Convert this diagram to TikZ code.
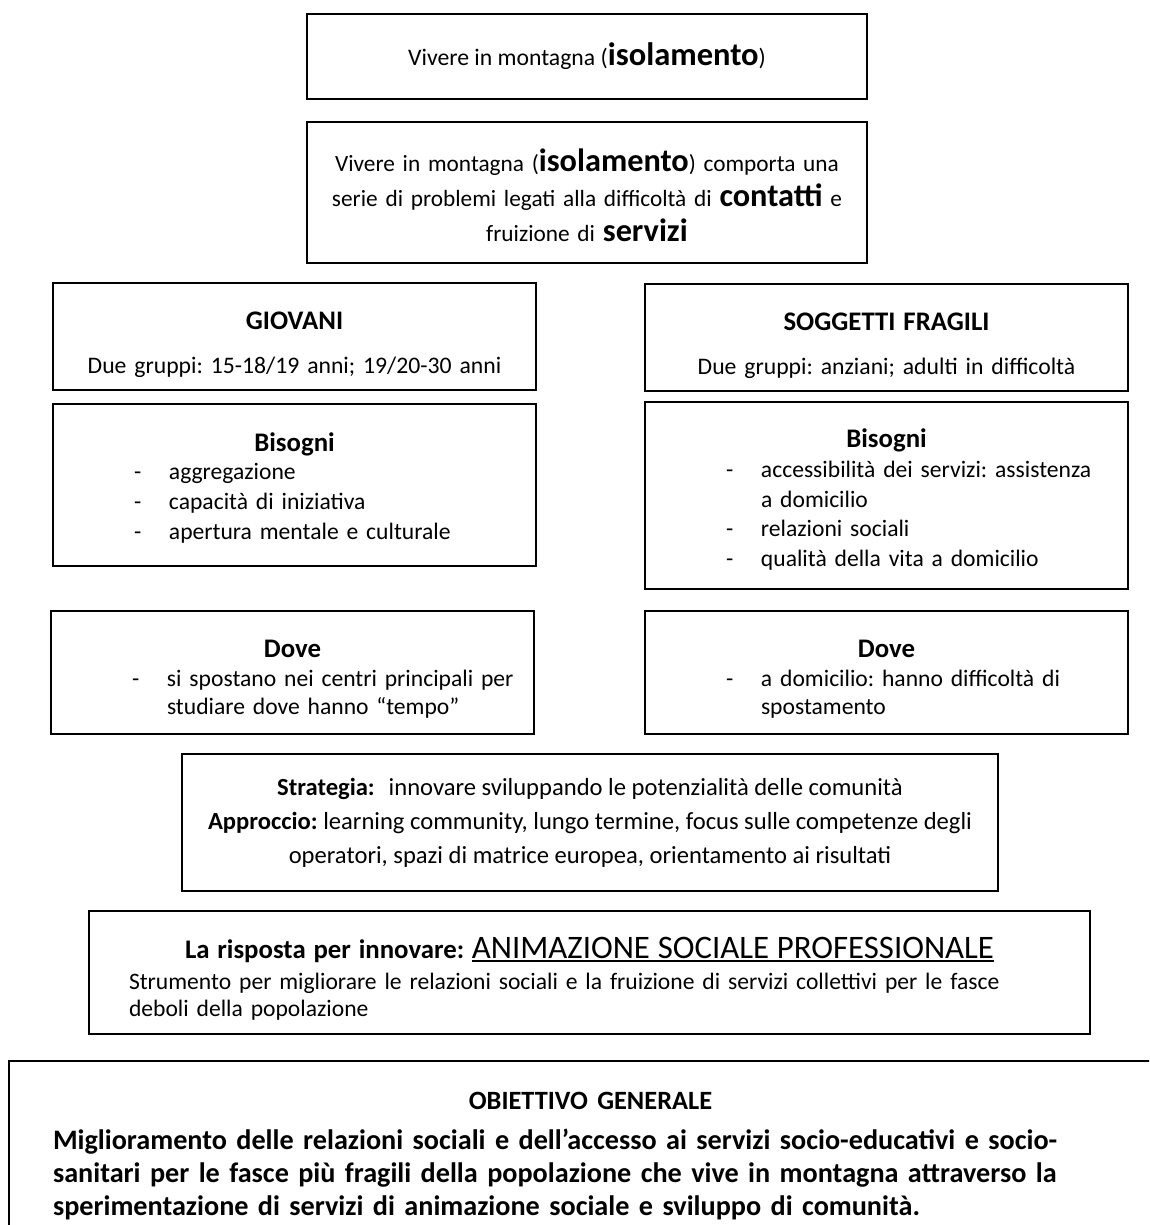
\documentclass[tikz,border=0pt]{standalone}
\usepackage{fontspec}
\setmainfont{Carlito}
\frenchspacing
\newcommand\fsz[2]{\fontsize{#1}{#2}\selectfont}
\newcommand\myul[1]{\setbox0\hbox{#1}\rlap{\rule[-4pt]{\wd0}{2pt}}\box0}
\newcommand\itm{\hspace*{81pt}\makebox[35pt][l]{-}}
\newcommand\ind{\hspace*{116pt}}
\newcommand\topst[1]{\rule{0pt}{#1pt}}
\newcommand\botst[1]{\rule[-#1pt]{0pt}{#1pt}}
\begin{document}
\begin{tikzpicture}[x=1pt,y=-1pt,
  bx/.style={draw=black, line width=2pt, rectangle, inner sep=0pt, anchor=north west},
  lst/.style={bx, align=left, text width=483pt, font=\fsz{23.6}{30}}]
\useasboundingbox (0,0) rectangle (1149,1225);
\fill[white] (0,0) rectangle (1149,1225);

\node[bx, minimum width=560, minimum height=85, align=center, font=\fsz{23.7}{30}] (b1) at (306,13)
  {Vivere in montagna (\textbf{\fsz{32.5}{30}isolamento})};

\node[bx, minimum width=560, minimum height=141, align=center, text width=560pt, font=\fsz{23.3}{35}] (b2) at (306,121)
  {\topst{42}Vivere in montagna (\textbf{\fsz{32.3}{35}isolamento}) comporta una\\
   serie di problemi legati alla difficoltà di \textbf{\fsz{32.3}{35}contatti} e\\
   fruizione di \textbf{\fsz{32.3}{35}servizi}\botst{14}};

\node[bx, minimum width=483, minimum height=107, align=center, text width=483pt, font=\fsz{23.7}{44}] (giov) at (52,282)
  {\topst{40}\textbf{\fsz{26.8}{44}GIOVANI}\\ Due gruppi: 15-18/19 anni; 19/20-30 anni\botst{9.6}};

\node[bx, minimum width=483, minimum height=107, align=center, text width=483pt, font=\fsz{23.7}{44}] (sogg) at (644,283)
  {\topst{40}\textbf{\fsz{26.8}{44}SOGGETTI FRAGILI}\\ Due gruppi: anziani; adulti in difficoltà\botst{10}};

\node[lst, minimum height=162] (bisL) at (52,403)
  {\topst{35}\makebox[483pt][c]{\bfseries\fsz{26.8}{30}Bisogni}\\[-2pt]
   \itm aggregazione\\
   \itm capacità di iniziativa\\
   \itm apertura mentale e culturale\botst{14}};

\node[lst, minimum height=187, font=\fsz{23.6}{29.5}] (bisR) at (644,401)
  {\topst{35}\makebox[483pt][c]{\bfseries\fsz{26.8}{29.5}Bisogni}\\[0.5pt]
   \itm\makebox[345pt][s]{accessibilità dei servizi: assistenza}\\
   \ind a domicilio\\
   \itm relazioni sociali\\
   \itm qualità della vita a domicilio\botst{12.1}};

\node[lst, minimum height=123, font=\fsz{23.6}{27.8}] (doveL) at (50,610)
  {\topst{37}\makebox[483pt][c]{\bfseries\fsz{26.8}{27.8}Dove}\\[1.5pt]
   \itm\makebox[345pt][s]{si spostano nei centri principali per}\\
   \ind studiare dove hanno “tempo”\botst{9.7}};

\node[lst, minimum height=123, font=\fsz{23.6}{27.8}] (doveR) at (644,610)
  {\topst{37}\makebox[483pt][c]{\bfseries\fsz{26.8}{27.8}Dove}\\[1.5pt]
   \itm\makebox[345pt][s]{a domicilio: hanno difficoltà di}\\
   \ind spostamento\botst{9.7}};

\node[bx, minimum width=816, minimum height=137, align=center, font=\fsz{24.6}{34}] (strat) at (181,753)
  {\textbf{Strategia:}\hspace{14pt}innovare sviluppando le potenzialità delle comunità\\
   \textbf{Approccio:} learning community, lungo termine, focus sulle competenze degli\\
   operatori, spazi di matrice europea, orientamento ai risultati};

\node[bx, align=left, text width=1001pt, minimum height=123, font=\fsz{23.6}{26.7}] (risp) at (88,910)
  {\topst{40}\makebox[1001pt][c]{\textbf{\fsz{26.8}{26.7}La risposta per innovare:} \fsz{32.8}{26.7}\myul{ANIMAZIONE SOCIALE PROFESSIONALE}}\\[4.3pt]
   \hspace*{40pt}\makebox[916pt][s]{Strumento per migliorare le relazioni sociali e la fruizione di servizi collettivi per le fasce}\\
   \hspace*{40pt}deboli della popolazione\botst{10.7}};

\begin{scope}
\clip (0,0) rectangle (1149,1225);
\node[bx, align=left, text width=1075pt, inner xsep=44pt, inner ysep=31pt, font=\fsz{28.2}{33}\bfseries] (obj) at (8,1060)
  {\makebox[1075pt][c]{\fsz{26.4}{33}OBIETTIVO GENERALE}\\[7pt]
   \makebox[1075pt][s]{Miglioramento delle relazioni sociali e dell’accesso ai servizi socio-educativi e socio-}\\
   \makebox[1075pt][s]{sanitari per le fasce più fragili della popolazione che vive in montagna attraverso la}\\
   sperimentazione di servizi di animazione sociale e sviluppo di comunità.};
\end{scope}
\end{tikzpicture}
\end{document}
